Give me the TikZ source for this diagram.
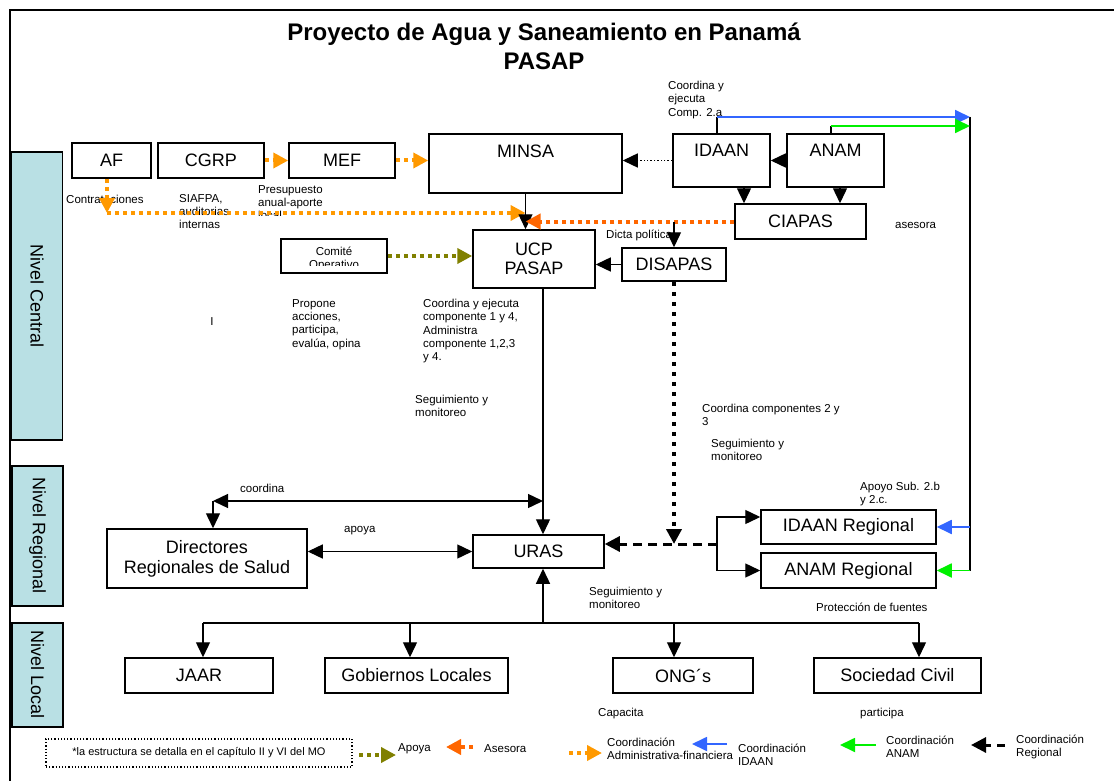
\documentclass[tikz,border=0pt]{standalone}
\usepackage{fontspec}
\setmainfont{Liberation Sans}
\usetikzlibrary{arrows.meta}
\definecolor{naranja}{RGB}{255,153,0}
\definecolor{naranjaosc}{RGB}{255,102,0}
\definecolor{oliva}{RGB}{128,128,0}
\definecolor{azul}{RGB}{51,102,255}
\definecolor{verde}{RGB}{0,240,0}
\definecolor{nivel}{RGB}{185,224,228}
\tikzset{
  punta/.tip={Triangle[length=15pt,width=14pt]},
  puntagr/.tip={Triangle[length=15pt,width=15pt]},
}
\begin{document}
\begin{tikzpicture}[x=1pt,y=-1pt,
  box/.style={draw, line width=1.5pt, fill=white, inner sep=0pt, align=center, font=\fontsize{18}{20}\selectfont},
  toplbl/.style={anchor=north, inner sep=0pt, font=\fontsize{18}{20}\selectfont},
  nivelbox/.style={draw, line width=1.5pt, fill=nivel, rotate=-90, minimum height=51pt, inner sep=0pt, font=\fontsize{18}{20}\selectfont},
  lbl/.style={inner sep=0pt, align=left, font=\fontsize{11.5}{13.3}\selectfont},
  arr/.style={line width=1.4pt, -punta},
  flecha/.style={line width=1.8pt, -punta},
  punteado/.style={line width=4pt, dash pattern=on 4pt off 4pt, -puntagr},
]
\useasboundingbox (0,0) rectangle (1114,781);
\draw[line width=1.5pt] (10,781) -- (10,10) -- (1114,10);
\node[font=\bfseries\fontsize{24}{29}\selectfont, align=center] (titulo) at (544,46) {Proyecto de Agua y Saneamiento en Panamá\\PASAP};

\node[nivelbox, minimum width=288pt] (ncentral) at (37,296) {Nivel Central};
\node[nivelbox, minimum width=140pt] (nregional) at (37.5,536) {Nivel Regional};
\node[nivelbox, minimum width=104pt] (nlocal) at (37.5,675) {Nivel Local};

\node[box, minimum width=79pt, minimum height=35pt] (af) at (111.5,160.5) {AF};
\node[box, minimum width=106pt, minimum height=35pt] (cgrp) at (211,160.5) {CGRP};
\node[box, minimum width=106pt, minimum height=35pt] (mef) at (342,160.5) {MEF};
\node[box, minimum width=193pt, minimum height=59pt] (minsa) at (525.5,163.5) {};
\node[toplbl] (minsatxt) at ([yshift=-11pt]minsa.north) {MINSA};
\node[box, minimum width=97pt, minimum height=53pt] (idaan) at (721.5,160.5) {};
\node[toplbl] (idaantxt) at ([yshift=-11pt]idaan.north) {IDAAN};
\node[box, minimum width=97pt, minimum height=53pt] (anam) at (835.5,160.5) {};
\node[toplbl] (anamtxt) at ([yshift=-11pt]anam.north) {ANAM};
\node[box, minimum width=131pt, minimum height=35pt] (ciapas) at (800.5,221.5) {CIAPAS};
\node[box, minimum width=106pt, minimum height=34pt] (comite) at (334,256) {};
\begin{scope}
\clip (comite.north west) rectangle ([yshift=8pt]comite.south east);
\node[lbl, align=center] (comitetxt) at ([yshift=-20.5pt]comite.north) {Comité\\Operativo};
\end{scope}
\node[box, minimum width=122pt, minimum height=58pt, font=\fontsize{18}{19}\selectfont] (ucp) at (534,259) {UCP\\PASAP};
\node[box, minimum width=104pt, minimum height=33pt] (disapas) at (674,264.5) {DISAPAS};
\node[box, minimum width=200pt, minimum height=59pt] (dirs) at (207,558.5) {Directores\\Regionales de Salud};
\node[box, minimum width=131pt, minimum height=33pt] (uras) at (538.5,551.5) {URAS};
\node[box, minimum width=175pt, minimum height=34pt] (idaanr) at (848.5,527) {IDAAN Regional};
\node[box, minimum width=175pt, minimum height=35pt] (anamr) at (848.5,570.5) {ANAM Regional};
\node[box, minimum width=148pt, minimum height=35pt] (jaar) at (199,675.5) {JAAR};
\node[box, minimum width=183pt, minimum height=35pt] (gob) at (416.5,675.5) {Gobiernos Locales};
\node[box, minimum width=140pt, minimum height=35pt] (ong) at (683,675.5) {ONG´s};
\node[box, minimum width=167pt, minimum height=35pt] (soc) at (897.5,675.5) {Sociedad Civil};

\node[lbl, anchor=north west] (coordcomp) at (668,81) {Coordina y\\ejecuta\\Comp. 2.a};
\node[lbl, anchor=west] (asesora) at (895,225) {asesora};
\node[lbl, anchor=west] (contrat) at (66,199) {Contrataciones};
\node[lbl, anchor=north west] (siafpa) at (179,194) {SIAFPA,\\auditorias\\internas};
\begin{scope}
\clip (250,180) rectangle (360,215);
\node[lbl, anchor=north west] (presup) at (258,185) {Presupuesto\\anual-aporte\\local};
\end{scope}
\node[lbl, anchor=west] (dicta) at (606,235) {Dicta política};
\node[lbl, anchor=north west] (propone) at (292,299) {Propone\\acciones,\\participa,\\evalúa, opina};
\node[lbl, anchor=north west] (ejecuta) at (423,299) {Coordina y ejecuta\\componente 1 y 4,\\Administra\\componente 1,2,3\\y 4.};
\node[lbl] (cursor) at (212,322) {I};
\node[lbl, anchor=north west] (seguim1) at (415,395) {Seguimiento y\\monitoreo};
\node[lbl, anchor=north west] (coordc23) at (702,404) {Coordina componentes 2 y\\3};
\node[lbl, anchor=north west] (seguim2) at (711,439) {Seguimiento y\\monitoreo};
\node[lbl, anchor=west] (coordina) at (240,488) {coordina};
\node[lbl, anchor=west] (apoya) at (344,531) {apoya};
\node[lbl, anchor=north west] (apoyosub) at (860,482) {Apoyo Sub. 2.b\\y 2.c.};
\node[lbl, anchor=north west] (seguim3) at (589,587) {Seguimiento y\\monitoreo};
\node[lbl, anchor=west] (proteccion) at (816,607) {Protección de fuentes};
\node[lbl, anchor=west] (capacita) at (598,714) {Capacita};
\node[lbl, anchor=west] (participa) at (860,714) {participa};

\coordinate (afbaja) at (107,213);
\draw[punteado, naranja] (af.south -| afbaja) -- (afbaja);
\draw[punteado, naranja] (afbaja) -- (minsa.south |- afbaja);
\draw[punteado, naranja] (cgrp.east) -- (mef.west);
\draw[punteado, naranja] (mef.east) -- (mef.east -| minsa.west);
\draw[line width=1.4pt, dotted, -punta] (idaan.west) -- (idaan.west -| minsa.east);
\draw[arr] (anam.west) -- (idaan.east);
\draw[arr] ([xshift=22.5pt]idaan.south) -- ([xshift=22.5pt]idaan.south |- ciapas.north);
\draw[arr] ([xshift=4.5pt]anam.south) -- ([xshift=4.5pt]anam.south |- ciapas.north);
\draw[arr] (minsa.south) -- (minsa.south |- ucp.north);
\draw[punteado, naranjaosc] (ciapas.west) -- (ciapas.west -| minsa.south);
\draw[arr] (ciapas.west -| disapas.north) -- (disapas.north);
\draw[arr] (disapas.west) -- (disapas.west -| ucp.east);
\draw[punteado, oliva] (comite.east) -- (comite.east -| ucp.west);

\coordinate (azularriba) at (970,117);
\coordinate (verdearriba) at (970,126);
\draw[line width=1.4pt] ([xshift=-4.5pt]idaan.north) -- ([xshift=-4.5pt]idaan.north |- azularriba);
\draw[line width=1.4pt] ([xshift=-4.5pt]anam.north) -- ([xshift=-4.5pt]anam.north |- verdearriba);
\draw[line width=1.4pt] (azularriba) -- (anamr.east -| azularriba);
\draw[flecha, azul] ([xshift=-4.5pt]idaan.north |- azularriba) -- (azularriba);
\draw[flecha, verde] ([xshift=-4.5pt]anam.north |- verdearriba) -- (verdearriba);
\draw[flecha, azul] (idaanr.east -| azularriba) -- (idaanr.east);
\draw[flecha, verde] (anamr.east -| azularriba) -- (anamr.east);

\draw[arr] ([xshift=9pt]ucp.south) -- ([xshift=9pt]ucp.south |- uras.north);
\coordinate (coordizq) at (213,501);
\draw[line width=1.4pt, punta-punta] (coordizq) -- ([xshift=9pt]ucp.south |- coordizq);
\draw[arr] (coordizq) -- (coordizq |- dirs.north);
\draw[line width=1.4pt, punta-punta] (dirs.east |- uras.west) -- (uras.west);

\coordinate (regbif) at (717,544);
\draw[line width=4.5pt, dash pattern=on 4.5pt off 5.5pt, -puntagr] (disapas.south) -- (disapas.south |- regbif);
\draw[line width=3pt, dash pattern=on 9pt off 6pt, -puntagr] (regbif) -- (regbif -| uras.east);
\draw[arr] (regbif) |- ([yshift=10pt]idaanr.west);
\draw[arr] (regbif) |- (anamr.west);

\coordinate (bus) at (543,623);
\draw[arr] ([xshift=4.5pt]uras.south |- bus) -- ([xshift=4.5pt]uras.south);
\draw[line width=1.4pt] ([xshift=4pt]jaar.north |- bus) -- ([xshift=21.5pt]soc.north |- bus);
\foreach \n/\s in {jaar/4,gob/-6.5,ong/-9,soc/21.5}
  \draw[arr] ([xshift=\s pt]\n.north |- bus) -- ([xshift=\s pt]\n.north);

\node[draw, dotted, line width=1.2pt, minimum width=306pt, minimum height=28pt, font=\fontsize{11}{13}\selectfont] (nota) at (199,753) {*la estructura se detalla en el capítulo II y VI del MO};
\node[lbl, anchor=west] (lgapoya) at (398,749) {Apoya};
\draw[punteado, oliva] ([xshift=-39pt,yshift=-6pt]lgapoya.west) -- ([xshift=-2pt,yshift=-6pt]lgapoya.west);
\node[lbl, anchor=west] (lgasesora) at (484,749) {Asesora};
\draw[punteado, naranjaosc] ([xshift=-11pt,yshift=2pt]lgasesora.west) -- ([xshift=-38pt,yshift=2pt]lgasesora.west);
\node[lbl, anchor=west] (lgadmin) at (607,749) {Coordinación\\Administrativa-financiera};
\draw[punteado, naranja] ([xshift=-38pt,yshift=-4pt]lgadmin.west) -- ([xshift=-5pt,yshift=-4pt]lgadmin.west);
\node[lbl, anchor=west] (lgidaan) at (738,755) {Coordinación\\IDAAN};
\draw[flecha, azul] ([xshift=-11pt,yshift=11pt]lgidaan.west) -- ([xshift=-46pt,yshift=11pt]lgidaan.west);
\node[lbl, anchor=west] (lganam) at (886,747) {Coordinación\\ANAM};
\draw[flecha, verde] ([xshift=-10pt,yshift=2pt]lganam.west) -- ([xshift=-46pt,yshift=2pt]lganam.west);
\node[lbl, anchor=west] (lgregional) at (1016,747) {Coordinación\\Regional};
\draw[line width=3pt, dash pattern=on 8pt off 6pt, -puntagr] ([xshift=-11pt,yshift=2pt]lgregional.west) -- ([xshift=-45pt,yshift=2pt]lgregional.west);
\end{tikzpicture}
\end{document}
